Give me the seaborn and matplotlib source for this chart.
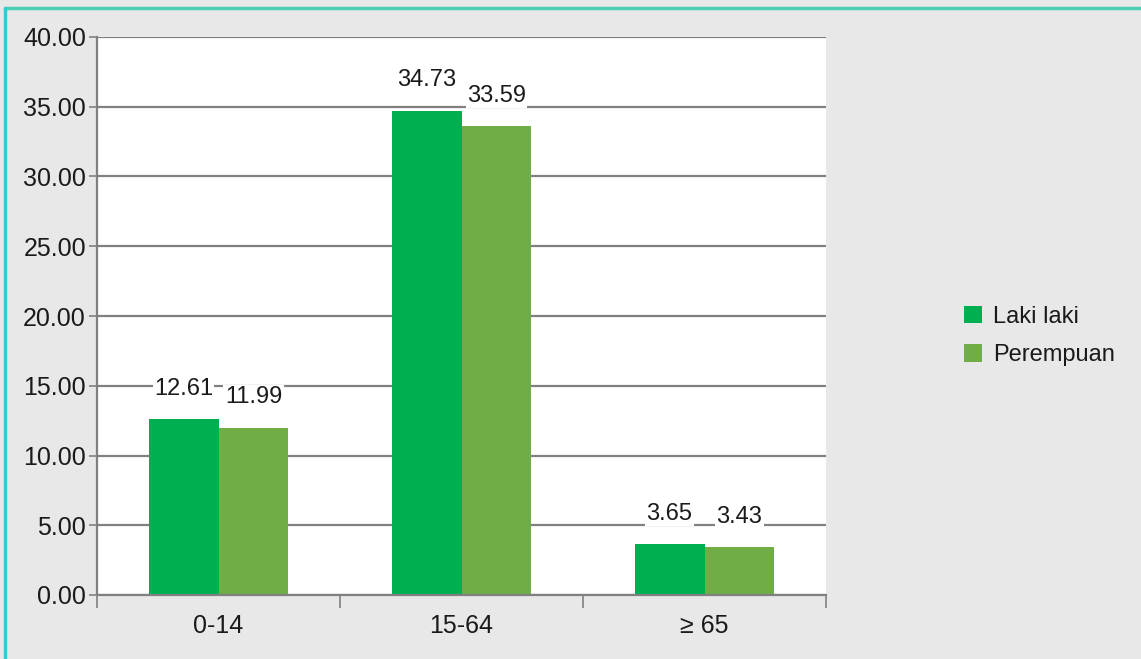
import matplotlib
matplotlib.use("Agg")
import matplotlib.pyplot as plt
import seaborn as sns
import pandas as pd
from matplotlib.lines import Line2D
from matplotlib.ticker import FixedLocator, FuncFormatter

categories = ["0-14", "15-64", "≥ 65"]
series_names = ["Laki laki", "Perempuan"]
laki = [12.61, 34.73, 3.65]
perempuan = [11.99, 33.59, 3.43]
colors = ["#00B050", "#70AD47"]
yticks = [0, 5, 10, 15, 20, 25, 30, 35, 40]

df = pd.DataFrame({
    "Kelompok": categories * 2,
    "Nilai": laki + perempuan,
    "Jenis": [series_names[0]] * 3 + [series_names[1]] * 3,
})

sns.set_theme(style="white")
plt.rcParams["font.family"] = ["Liberation Sans", "DejaVu Sans"]

fig = plt.figure(figsize=(11.41, 6.59), dpi=100)
fig.patch.set_facecolor("#e8e8e8")
ax = fig.add_axes([97 / 1141, 1 - 595 / 659, (826 - 97) / 1141, (595 - 37) / 659])
ax.set_facecolor("white")

sns.barplot(data=df, x="Kelompok", y="Nilai", hue="Jenis", order=categories,
            hue_order=series_names, palette=colors, width=0.576, saturation=1,
            linewidth=0, edgecolor="none", ax=ax, legend=True)

ax.set_xlim(-0.5, 2.5)
ax.set_ylim(0, 40)
ax.set_yticks(yticks)
ax.yaxis.set_major_formatter(FuncFormatter(lambda v, p: f"{v:.2f}"))
ax.grid(axis="y", color="#808080", linewidth=1.6, zorder=0)
ax.set_axisbelow(True)
ax.set_xlabel("")
ax.set_ylabel("")

for s in ["top", "right"]:
    ax.spines[s].set_visible(False)
for s in ["left", "bottom"]:
    ax.spines[s].set_color("#808080")
    ax.spines[s].set_linewidth(1.6)

ax.tick_params(axis="y", which="major", length=6, width=1.2, color="#808080",
               labelsize=18, labelcolor="#1a1a1a", pad=2, left=True)
ax.tick_params(axis="x", which="major", length=0, labelsize=18,
               labelcolor="#1a1a1a", pad=14)
ax.xaxis.set_minor_locator(FixedLocator([-0.5, 0.5, 1.5, 2.5]))
ax.tick_params(axis="x", which="minor", length=9, width=1.2, color="#808080",
               bottom=True)

for cont in ax.containers:
    texts = ax.bar_label(cont, fmt="%.2f", padding=14, fontsize=17, color="#1a1a1a")
    for t in texts:
        t.set_bbox(dict(facecolor="white", edgecolor="none", pad=1))

leg = ax.legend(loc="center left", bbox_to_anchor=(955 / 1141, 1 - 336 / 659),
                bbox_transform=fig.transFigure, frameon=False, fontsize=17,
                handlelength=0.75, handleheight=0.75, handletextpad=0.45,
                labelspacing=0.7, borderaxespad=0)
for t in leg.get_texts():
    t.set_color("#1a1a1a")
for h in leg.legend_handles:
    h.set_linewidth(0)

# teal frame border (top and left edges visible)
fig.add_artist(Line2D([5 / 1141, 1.0], [1 - 8 / 659, 1 - 8 / 659],
                      transform=fig.transFigure, color="#4fcfb8", linewidth=2.5))
fig.add_artist(Line2D([5 / 1141, 5 / 1141], [0.0, 1 - 8 / 659],
                      transform=fig.transFigure, color="#3ec6d6", linewidth=2.5))

fig.savefig("out.png", dpi=100, facecolor=fig.get_facecolor())
